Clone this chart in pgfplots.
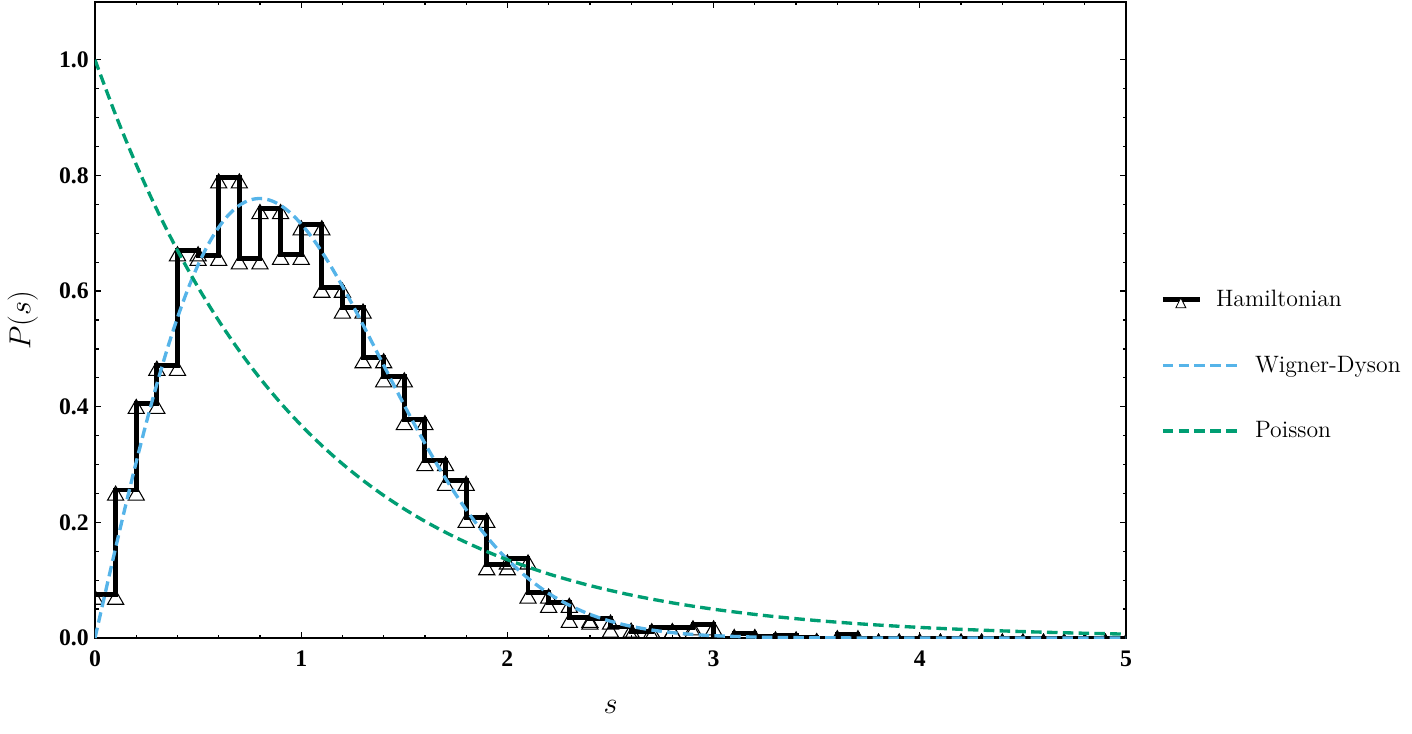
\documentclass[border=0pt]{standalone}
\usepackage{fontspec}
\usepackage{pgfplots}
\pgfplotsset{compat=1.18}
\newfontfamily\tickfont{Liberation Serif}
\definecolor{wdblue}{HTML}{56B4E9}
\definecolor{pgreen}{HTML}{009E73}
% open triangle, apex a little above the data point
\pgfdeclareplotmark{tri}{%
  \pgfpathmoveto{\pgfqpoint{0pt}{2.2pt}}%
  \pgfpathlineto{\pgfqpoint{4.6pt}{-5.8pt}}%
  \pgfpathlineto{\pgfqpoint{-4.6pt}{-5.8pt}}%
  \pgfpathclose
  \pgfusepathqstroke}

\begin{document}
\begin{tikzpicture}
\begin{axis}[name=ax,
  scale only axis, width=20.62cm, height=12.72cm,
  xmin=0, xmax=5, ymin=0, ymax=1.1,
  xtick={0,1,2,3,4,5}, ytick={0,0.2,0.4,0.6,0.8,1.0},
  minor x tick num=4, minor y tick num=3,
  tick align=inside, xtick pos=both, ytick pos=both,
  major tick length=0.12cm, minor tick length=0.07cm,
  axis line style={black, line width=0.85pt},
  tick style={black, line width=0.7pt},
  /pgf/number format/assume math mode=true,
  tick label style={font=\fontsize{13.5}{15}\selectfont\tickfont\bfseries},
  yticklabel style={/pgf/number format/.cd, fixed, fixed zerofill, precision=1},
  xticklabel style={yshift=-0.13cm},
  xlabel={$s$}, ylabel={$P(s)$},
  label style={font=\fontsize{19}{22}\selectfont},
  xlabel style={at={(axis description cs:0.5,-0.1085)}, anchor=center},
  ylabel style={at={(axis description cs:-0.0700,0.5)}, anchor=center},
  clip marker paths=true,
  legend style={draw=none, fill=none, at={(axis description cs:1.033,0.429)},
    anchor=west, inner sep=0pt, row sep=0.8cm, column sep=0.26cm,
    font=\fontsize{13.5}{15}\selectfont, cells={anchor=west}},
]
\addplot[black, line width=2.8pt, mark=tri,
  mark options={solid, line width=0.6pt, black},
  legend image code/.code={
    \path[draw=none, fill=none] (0cm,0cm) -- (1.48cm,0cm);
    \draw[black, line width=2.8pt] (0cm,0cm) -- (0.74cm,0cm);
    \draw[black, line width=0.5pt, fill=white] (0.36cm,0.03cm) -- (0.46cm,-0.17cm) -- (0.26cm,-0.17cm) -- cycle;
  }] coordinates {
  (0.0,0.076) (0.1,0.076) (0.1,0.256) (0.2,0.256)
  (0.2,0.406) (0.3,0.406) (0.3,0.472) (0.4,0.472)
  (0.4,0.670) (0.5,0.670) (0.5,0.662) (0.6,0.662)
  (0.6,0.796) (0.7,0.796) (0.7,0.656) (0.8,0.656)
  (0.8,0.743) (0.9,0.743) (0.9,0.664) (1.0,0.664)
  (1.0,0.715) (1.1,0.715) (1.1,0.607) (1.2,0.607)
  (1.2,0.571) (1.3,0.571) (1.3,0.485) (1.4,0.485)
  (1.4,0.452) (1.5,0.452) (1.5,0.378) (1.6,0.378)
  (1.6,0.307) (1.7,0.307) (1.7,0.273) (1.8,0.273)
  (1.8,0.209) (1.9,0.209) (1.9,0.127) (2.0,0.127)
  (2.0,0.137) (2.1,0.137) (2.1,0.078) (2.2,0.078)
  (2.2,0.062) (2.3,0.062) (2.3,0.036) (2.4,0.036)
  (2.4,0.033) (2.5,0.033) (2.5,0.019) (2.6,0.019)
  (2.6,0.011) (2.7,0.011) (2.7,0.018) (2.8,0.018)
  (2.8,0.018) (2.9,0.018) (2.9,0.023) (3.0,0.023)
  (3.0,0.000) (3.1,0.000) (3.1,0.008) (3.2,0.008)
  (3.2,0.002) (3.3,0.002) (3.3,0.004) (3.4,0.004)
  (3.4,0.001) (3.5,0.001) (3.5,0.000) (3.6,0.000)
  (3.6,0.006) (3.7,0.006) (3.7,0.000) (3.8,0.000)
  (3.8,0.000) (3.9,0.000) (3.9,0.000) (4.0,0.000)
  (4.0,0.000) (4.1,0.000) (4.1,0.000) (4.2,0.000)
  (4.2,0.000) (4.3,0.000) (4.3,0.000) (4.4,0.000)
  (4.4,0.000) (4.5,0.000) (4.5,0.000) (4.6,0.000)
  (4.6,0.000) (4.7,0.000) (4.7,0.000) (4.8,0.000)
  (4.8,0.000) (4.9,0.000) (4.9,0.000) (5.0,0.000)
};
\addlegendentry{\hspace*{-0.78cm}Hamiltonian}
\addplot[wdblue, line width=1.9pt, dash pattern=on 6pt off 3pt, smooth,
  legend image code/.code={
    \draw[wdblue, line width=1.9pt, dash pattern=on 6pt off 3pt] (0cm,0cm) -- (1.48cm,0cm);
  }] coordinates {
  (0.00,0.00000) (0.05,0.07839) (0.10,0.15585) (0.15,0.23149) (0.20,0.30444)
  (0.25,0.37389) (0.30,0.43908) (0.35,0.49935) (0.40,0.55412) (0.45,0.60292)
  (0.50,0.64538) (0.55,0.68125) (0.60,0.71036) (0.65,0.73269) (0.70,0.74831)
  (0.75,0.75738) (0.80,0.76016) (0.85,0.75700) (0.90,0.74829) (0.95,0.73451)
  (1.00,0.71619) (1.05,0.69383) (1.10,0.66803) (1.15,0.63934) (1.20,0.60833)
  (1.25,0.57556) (1.30,0.54155) (1.35,0.50681) (1.40,0.47178) (1.45,0.43689)
  (1.50,0.40247) (1.55,0.36897) (1.60,0.33654) (1.65,0.30549) (1.70,0.27593)
  (1.75,0.24805) (1.80,0.22193) (1.85,0.19762) (1.90,0.17517) (1.95,0.15454)
  (2.00,0.13576) (2.10,0.10329) (2.20,0.07720) (2.30,0.05668) (2.40,0.04089)
  (2.50,0.02899) (2.60,0.02020) (2.70,0.01383) (2.80,0.00931) (2.90,0.00616)
  (3.00,0.00401) (3.20,0.00161) (3.40,0.00061) (3.60,0.00021) (3.80,0.00007)
  (4.00,0.00002) (4.50,0.00000) (5.00,0.00000)
};
\addlegendentry{Wigner-Dyson}
\addplot[pgreen, line width=1.9pt, dash pattern=on 6pt off 3pt, smooth,
  legend image code/.code={
    \draw[pgreen, line width=1.9pt, dash pattern=on 6pt off 3pt] (0cm,0cm) -- (1.48cm,0cm);
  }] coordinates {
  (0.0,1.000000) (0.1,0.904837) (0.2,0.818731) (0.3,0.740818) (0.4,0.670320)
  (0.5,0.606531) (0.6,0.548812) (0.7,0.496585) (0.8,0.449329) (0.9,0.406570)
  (1.0,0.367879) (1.1,0.332871) (1.2,0.301194) (1.3,0.272532) (1.4,0.246597)
  (1.5,0.223130) (1.6,0.201897) (1.7,0.182684) (1.8,0.165299) (1.9,0.149569)
  (2.0,0.135335) (2.2,0.110803) (2.4,0.090718) (2.6,0.074274) (2.8,0.060810)
  (3.0,0.049787) (3.25,0.038774) (3.5,0.030197) (3.75,0.023518) (4.0,0.018316)
  (4.25,0.014264) (4.5,0.011109) (4.75,0.008652) (5.0,0.006738)
};
\addlegendentry{Poisson}
\end{axis}
\pgfresetboundingbox
\path (ax.south west) ++(-1.9cm,-1.9cm) rectangle (ax.north east);
\path (ax.north east) ++(5.72cm,0.04cm);
\end{tikzpicture}
\end{document}
